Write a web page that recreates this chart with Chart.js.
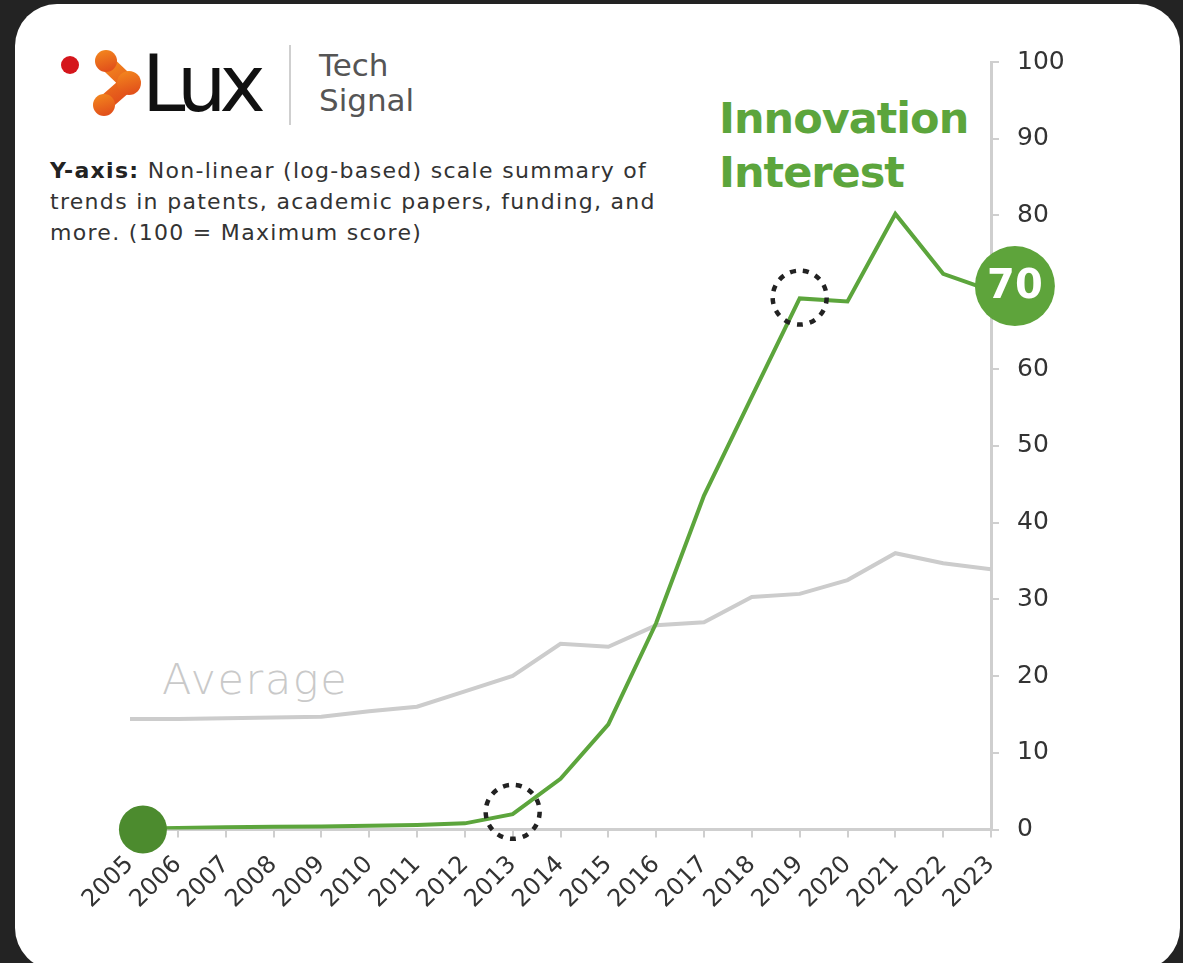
<!DOCTYPE html>
<html>
<head>
<meta charset="utf-8">
<script src="https://cdn.jsdelivr.net/npm/chart.js@4.4.1/dist/chart.umd.min.js"></script>
<style>
  html, body { margin: 0; padding: 0; background: #232323; }
  #wrap { position: relative; width: 1183px; height: 963px; overflow: hidden; background: #232323; }
  #card { position: absolute; left: 15px; top: 4px; width: 1165px; height: 966px; border-radius: 42px; background: #fff; }
  #chart { position: absolute; left: 0; top: 0; }
  .t { position: absolute; white-space: nowrap; font-family: "DejaVu Sans", sans-serif; line-height: 1; }
  #logo { position: absolute; left: 0; top: 0; }
</style>
</head>
<body>
<div id="wrap">
  <div id="card"></div>

  <!-- logo -->
  <svg id="logo" width="300" height="140">
    <defs>
      <linearGradient id="og" x1="0" y1="0" x2="0.3" y2="1">
        <stop offset="0" stop-color="#f48a1e"/>
        <stop offset="1" stop-color="#e2521b"/>
      </linearGradient>
    </defs>
    <circle cx="70" cy="65" r="9" fill="#d5161c"/>
    <polyline points="106,62 128,83 104,104" fill="none" stroke="url(#og)" stroke-width="16" stroke-linejoin="round"/>
    <circle cx="106" cy="61" r="11" fill="url(#og)"/>
    <circle cx="129" cy="83" r="12" fill="url(#og)"/>
    <circle cx="104" cy="105" r="11" fill="url(#og)"/>
    <line x1="290" y1="45" x2="290" y2="125" stroke="#cfcfcf" stroke-width="2"/>
  </svg>
  <div class="t" style="left:142px;top:45px;font-size:78px;color:#111;letter-spacing:-7px;">Lux</div>
  <div class="t" style="left:319px;top:49.8px;font-size:31px;color:#555;">Tech</div>
  <div class="t" style="left:319px;top:84.8px;font-size:31px;color:#555;">Signal</div>

  <div class="t" style="left:50px;top:155px;font-size:22px;line-height:31px;color:#333;letter-spacing:1.3px;">
    <b style="color:#222">Y-axis:</b> Non-linear (log-based) scale summary of<br>
    trends in patents, academic papers, funding, and<br>
    more. (100 = Maximum score)
  </div>

  <div class="t" style="left:719px;top:96.6px;font-size:43px;font-weight:bold;color:#5ca53c;letter-spacing:-1px;">Innovation</div>
  <div class="t" style="left:719px;top:150.6px;font-size:43px;font-weight:bold;color:#5ca53c;letter-spacing:-1px;">Interest</div>

  <div class="t" style="left:162px;top:657.6px;font-size:43px;font-weight:200;color:#c9c9c9;letter-spacing:1.6px;">Average</div>

  <canvas id="chart" width="1183" height="963"></canvas>
</div>

<script>
// years on the x axis
const years = [2005, 2006, 2007, 2008, 2009, 2010, 2011, 2012, 2013, 2014,
               2015, 2016, 2017, 2018, 2019, 2020, 2021, 2022, 2023];

// innovation interest score (green)
const innovation = [0.1, 0.2, 0.3, 0.35, 0.4, 0.5, 0.6, 0.8, 2.0, 6.6,
                    13.7, 26.9, 43.5, 56.4, 69.2, 68.8, 80.2, 72.4, 70.2];

// average score (gray)
const average = [14.4, 14.4, 14.5, 14.6, 14.7, 15.4, 16.0, 18.0, 20.0, 24.2,
                 23.8, 26.6, 27.0, 30.3, 30.7, 32.5, 36.0, 34.7, 33.9];

// y axis ticks
const yTicks = [0, 10, 20, 30, 40, 50, 60, 70, 80, 90, 100];

// highlighted years (dotted rings)
const highlightYears = [2013, 2019];
const ringLift = [0.3, 0.1];

// start dot and end badge, placed in data units
const startDot = [{ x: years[0] + 0.27, y: 0 }];
const endBadge = [{ x: years[years.length - 1] + 0.5, y: 70.8 }];
const badgeText = String(Math.round(innovation[innovation.length - 1]));

const green = '#5ca53c';
const gray = '#cccccc';
const axisGray = '#cfcfcf';

const rings = highlightYears.map((yr, i) => ({ x: yr, y: innovation[years.indexOf(yr)] + ringLift[i] }));

const markerPlugin = {
  id: 'markers',
  beforeDatasetDraw(chart, args) {
    if (chart.data.datasets[args.index].dashed) {
      chart.ctx.save();
      chart.ctx.setLineDash([6, 7]);
    }
  },
  afterDatasetDraw(chart, args) {
    if (chart.data.datasets[args.index].dashed) chart.ctx.restore();
  },
  afterDatasetsDraw(chart) {
    const { ctx, scales: { x, y } } = chart;
    const px = x.getPixelForValue(endBadge[0].x);
    const py = y.getPixelForValue(endBadge[0].y);
    ctx.save();
    ctx.fillStyle = '#ffffff';
    ctx.font = 'bold 40px "DejaVu Sans"';
    ctx.textAlign = 'center';
    ctx.textBaseline = 'middle';
    ctx.fillText(badgeText, px, py + 1);
    ctx.restore();
  }
};

const pts = arr => arr.map((v, i) => ({ x: years[i], y: v }));

new Chart(document.getElementById('chart'), {
  type: 'line',
  data: {
    datasets: [
      {
        data: pts(average),
        borderColor: gray, borderWidth: 4, pointRadius: 0, tension: 0, order: 5
      },
      {
        data: pts(innovation),
        borderColor: green, borderWidth: 4, pointRadius: 0, tension: 0, order: 4
      },
      {
        data: startDot, showLine: false, pointRadius: 24, pointBackgroundColor: '#4c8b2e',
        pointBorderWidth: 0, clip: false, order: 3
      },
      {
        data: rings, showLine: false, pointRadius: 27, pointBackgroundColor: 'rgba(0,0,0,0)',
        pointBorderColor: '#222', pointBorderWidth: 4.5, dashed: true, clip: false, order: 2
      },
      {
        data: endBadge, showLine: false, pointRadius: 40, pointBackgroundColor: '#5ea43b',
        pointBorderWidth: 0, clip: false, order: 1
      }
    ]
  },
  options: {
    responsive: false,
    animation: false,
    events: [],
    layout: { padding: { left: 130, top: 62, right: 0, bottom: 0 } },
    plugins: { legend: { display: false }, tooltip: { enabled: false } },
    scales: {
      x: {
        type: 'linear',
        min: years[0],
        max: years[years.length - 1],
        afterBuildTicks: s => { s.ticks = years.map(v => ({ value: v })); },
        ticks: {
          autoSkip: false, minRotation: 45, maxRotation: 45, padding: 13,
          callback: v => String(v),
          color: '#333', font: { family: 'DejaVu Sans', size: 24 }
        },
        grid: { drawOnChartArea: false, tickLength: 8, color: axisGray, lineWidth: 2 },
        border: { color: axisGray, width: 3 },
        afterFit: s => { s.height = 963 - 829.5; }
      },
      y: {
        position: 'right',
        min: 0, max: 100,
        afterBuildTicks: s => { s.ticks = yTicks.map(v => ({ value: v })); },
        ticks: { padding: 18, color: '#333', font: { family: 'DejaVu Sans', size: 25 } },
        grid: { drawOnChartArea: false, tickLength: 8, color: axisGray, lineWidth: 2 },
        border: { color: axisGray, width: 3 },
        afterFit: s => { s.width = 1183 - 991; }
      }
    }
  },
  plugins: [markerPlugin]
});
</script>
</body>
</html>
